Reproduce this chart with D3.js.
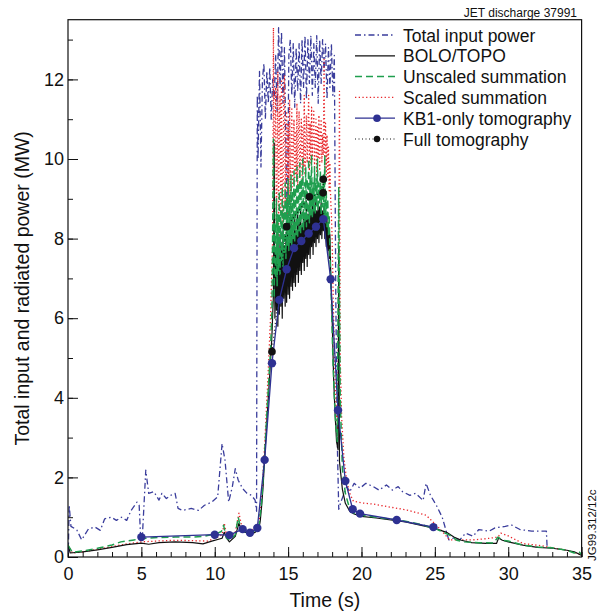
<!DOCTYPE html>
<html lang="en">
<head>
<meta charset="UTF-8">
<title>JET discharge 37991 - radiated power</title>
<script src="https://d3js.org/d3.v7.min.js"></script>
<style>
  body { margin: 0; background: #fff; }
  svg { font-family: "Liberation Sans", Arial, Helvetica, sans-serif; }
  .axis path { display: none; }
  .axis line { stroke: #111; stroke-width: 1; }
  .axis text { fill: #111; font-size: 18px; font-family: "Liberation Sans", Arial, sans-serif; }
  .title { fill: #111; font-size: 19.5px; }
  .legend text { fill: #111; font-size: 17.5px; }
</style>
</head>
<body>
<script>
// time in s, power in MW
const totalInput = [
  [0.02,0.1],[0.08,1.31],[0.2,0.77],[0.6,0.68],[0.93,0.43],[1.4,0.71],[1.85,0.75],[2.2,0.67],[2.5,0.96],
  [2.96,1.0],[3.3,0.92],[3.65,1.0],[4.0,0.92],[4.3,1.17],[4.7,1.38],[4.85,1.3],[4.95,0.5],[5.08,0.6],
  [5.3,2.18],[5.5,1.6],[5.85,1.64],[6.2,1.43],[6.4,1.6],[6.7,1.47],[7.0,1.55],[7.3,1.6],[7.5,1.22],
  [7.8,1.17],[8.4,1.22],[8.9,1.17],[9.3,1.3],[9.8,1.38],[10.2,1.51],[10.5,2.85],[10.7,2.43],[10.95,1.38],
  [11.2,1.77],[11.4,2.22],[11.6,1.93],[11.9,1.72],[12.2,1.6],[12.5,1.55],[12.75,1.43],[12.85,1.15],
  [12.9,11.6],[12.95,10.0],[13.05,12.2],[13.15,9.8],[13.25,12.0],[13.35,12.4],[13.45,11.0],[13.55,12.2],
  [13.65,11.4],[13.75,12.3],[13.85,11.0],[13.95,12.0],[14.05,11.5],[14.15,12.6],[14.25,11.2],[14.35,13.3],
  [14.45,11.8],[14.55,13.2],[14.65,11.4],[14.75,12.8],[14.85,10.2],[14.95,8.3],[15.05,12.6],[15.15,13.0],
  [15.25,11.6],[15.35,12.9],[15.45,11.3],[15.55,12.8],[15.65,11.7],[15.75,12.9],[15.85,11.4],[15.95,13.0],
  [16.05,11.8],[16.15,13.1],[16.25,11.5],[16.35,13.0],[16.45,11.9],[16.55,13.1],[16.65,11.6],[16.75,12.9],
  [16.85,11.8],[16.95,13.1],[17.05,11.4],[17.15,13.0],[17.25,11.9],[17.35,13.0],[17.45,12.2],[17.55,12.9],
  [17.65,11.5],[17.75,12.8],[17.85,11.8],[17.95,12.9],[18.05,11.6],[18.15,12.6],[18.25,6.5],[18.35,2.9],
  [18.45,1.2],[18.6,1.39],[19.0,1.77],[19.2,1.64],[19.5,1.85],[19.9,1.73],[20.3,1.85],[20.8,1.77],
  [21.2,1.68],[21.7,1.81],[22.1,1.68],[22.5,1.77],[22.8,1.64],[23.3,1.55],[23.7,1.6],[24.2,1.42],
  [24.4,1.85],[24.7,1.55],[25.1,1.3],[25.5,1.0],[25.95,0.43],[26.3,0.48],[26.7,0.43],[27.1,0.6],
  [27.6,0.52],[28.0,0.69],[28.7,0.65],[29.1,0.73],[29.8,0.77],[30.2,0.81],[30.8,0.69],[31.6,0.65],
  [32.0,0.65],[32.6,0.65],[32.65,0.25]
];

const boloTopo = [
  [0.0,0.32],[0.15,0.1],[1,0.13],[2,0.18],[3,0.24],[4,0.31],[5,0.35],[5.5,0.32],[6.2,0.36],[7.3,0.38],
  [8.5,0.36],[9.2,0.33],[9.8,0.4],[10.5,0.47],[10.65,0.62],[10.8,0.48],[11.0,0.38],[11.4,0.52],
  [11.65,0.85],[11.85,0.65],[12.1,0.62],[12.4,0.57],[12.75,0.62],[13.0,0.7],[13.1,0.9],[13.2,1.3],
  [13.3,1.8],[13.4,2.5],[13.5,3.1],[13.6,3.7],[13.7,4.3],[13.8,4.9],[13.9,5.6],
  [14.0,6.6],[14.05,10.4],[14.1,6.0],[14.15,7.6],[14.2,6.2],[14.25,7.9],[14.3,5.8],[14.35,7.5],
  [14.4,6.1],[14.45,8.1],[14.5,6.3],[14.55,7.7],[14.6,6.0],[14.65,8.2],[14.7,6.5],[14.75,7.8],
  [14.8,6.3],[14.85,8.0],[14.9,6.4],[14.95,8.3],[15.0,6.6],[15.05,7.9],[15.1,6.5],[15.15,8.2],
  [15.2,6.8],[15.25,8.4],[15.3,6.7],[15.35,8.0],[15.4,6.9],[15.45,8.5],[15.5,6.8],[15.55,8.2],
  [15.6,7.1],[15.65,8.6],[15.7,6.9],[15.75,8.4],[15.8,7.2],[15.85,8.7],[15.9,7.1],[15.95,8.3],
  [16.0,7.4],[16.05,8.7],[16.1,7.2],[16.15,8.5],[16.2,7.5],[16.25,8.8],[16.3,7.3],[16.35,8.6],
  [16.4,7.6],[16.45,8.9],[16.5,7.5],[16.55,8.6],[16.6,7.8],[16.65,8.9],[16.7,7.6],[16.75,8.7],
  [16.8,7.9],[16.85,9.0],[16.9,7.8],[16.95,8.7],[17.0,8.0],[17.05,8.9],[17.1,7.9],[17.15,8.8],
  [17.2,8.1],[17.25,8.9],[17.3,8.0],[17.35,8.7],[17.4,8.2],[17.45,8.8],[17.5,8.0],[17.55,8.6],
  [17.6,7.8],[17.65,8.5],[17.7,7.7],[17.75,8.4],[17.8,7.5],[17.85,8.1],[17.9,7.2],
  [18.0,6.0],[18.1,4.5],[18.2,3.6],[18.3,2.9],[18.4,2.7],[18.45,7.8],
  [18.5,2.4],[18.7,1.7],[18.9,1.35],[19.2,1.15],[19.5,1.08],[20,1.02],[21,0.98],[22,0.93],[23,0.88],
  [24,0.8],[25,0.72],[25.8,0.62],[26.3,0.5],[26.8,0.42],[27.5,0.36],[28.5,0.34],[29.2,0.34],[29.35,0.48],
  [29.6,0.42],[30,0.38],[31,0.3],[32,0.24],[33,0.22],[34,0.17],[34.5,0.13],[35,0.04]
];

const unscaledSum = [
  [0.0,0.3],[0.3,0.12],[1,0.15],[2,0.22],[3,0.3],[3.6,0.38],[4.5,0.43],[5,0.46],[6.2,0.49],[7.3,0.5],
  [8.4,0.5],[9.3,0.52],[10.2,0.6],[10.45,0.64],[10.6,0.8],[10.8,0.47],[11.05,0.43],[11.4,0.56],[11.6,1.0],
  [11.8,0.67],[12.1,0.63],[12.4,0.59],[12.75,0.67],[13.0,0.75],[13.2,1.4],[13.4,2.6],[13.6,3.9],[13.8,5.2],
  [13.9,6.2],[14.0,10.5],[14.05,6.5],[14.1,8.4],[14.15,7.0],[14.2,9.0],[14.25,6.8],[14.3,8.6],
  [14.35,7.2],[14.4,9.2],[14.45,7.1],[14.5,8.7],[14.55,7.4],[14.6,9.3],[14.65,7.3],[14.7,8.8],
  [14.75,7.6],[14.8,9.4],[14.85,7.5],[14.9,9.0],[14.95,7.8],[15.0,9.5],[15.05,7.7],[15.1,9.1],
  [15.15,7.9],[15.2,9.6],[15.25,7.8],[15.3,9.2],[15.35,8.0],[15.4,9.7],[15.45,7.9],[15.5,9.3],
  [15.55,8.1],[15.6,9.8],[15.65,8.0],[15.7,9.4],[15.75,8.2],[15.8,9.9],[15.85,8.1],[15.9,9.5],
  [15.95,8.3],[16.0,10.0],[16.05,8.2],[16.1,9.4],[16.15,8.4],[16.2,9.8],[16.25,8.3],[16.3,9.5],
  [16.35,8.5],[16.4,10.0],[16.45,8.4],[16.5,9.6],[16.55,8.6],[16.6,10.1],[16.65,8.5],[16.7,9.4],
  [16.75,8.7],[16.8,9.8],[16.85,8.6],[16.9,9.5],[16.95,8.8],[17.0,10.0],[17.05,8.7],[17.1,9.4],
  [17.15,8.9],[17.2,9.7],[17.25,8.6],[17.3,9.3],[17.35,8.8],[17.4,9.6],[17.45,8.5],[17.5,10.1],
  [17.55,8.4],[17.6,9.2],[17.65,8.3],[17.7,9.0],[17.75,8.1],[17.8,8.6],[17.85,7.6],
  [17.95,6.4],[18.05,5.0],[18.15,4.0],[18.25,3.3],[18.35,2.9],[18.45,9.3],[18.55,4.0],
  [18.7,2.2],[18.9,1.6],[19.2,1.2],[19.5,1.1],[20,1.05],[21,1.0],[22,0.95],[23,0.9],[24,0.82],[25,0.72],
  [26,0.55],[26.5,0.42],[27,0.38],[28,0.36],[29,0.35],[29.3,0.5],[29.6,0.42],[30,0.4],[31,0.3],[32,0.25],
  [33,0.23],[34,0.17],[34.5,0.1],[34.8,0.14],[35,0.06]
];

const scaledSum = [
  [0.0,0.3],[0.3,0.1],[1,0.13],[2,0.19],[3,0.26],[4,0.33],[5,0.38],[6,0.4],[7.3,0.42],[8.5,0.41],
  [9.5,0.4],[10.2,0.5],[10.5,0.56],[10.65,0.85],[10.8,0.55],[11.0,0.5],[11.4,0.62],[11.65,1.1],
  [11.85,0.75],[12.1,0.7],[12.4,0.66],[12.75,0.72],[13.0,0.8],[13.2,1.5],[13.4,2.8],[13.6,4.3],[13.8,6.0],
  [13.95,8.0],[14.0,13.3],[14.05,8.2],[14.1,10.6],[14.15,11.8],[14.2,8.4],[14.25,9.6],[14.3,12.2],
  [14.35,8.0],[14.4,10.8],[14.45,11.6],[14.5,8.6],[14.55,12.0],[14.6,9.2],[14.65,8.3],[14.7,11.4],
  [14.75,12.1],[14.8,8.8],[14.85,10.2],[14.9,11.2],[14.95,8.5],[15.0,10.9],[15.05,9.0],[15.1,11.5],
  [15.15,8.9],[15.2,10.4],[15.25,11.3],[15.3,9.3],[15.35,10.1],[15.4,11.0],[15.45,9.4],[15.5,10.7],
  [15.55,9.6],[15.6,11.4],[15.65,9.3],[15.7,10.5],[15.75,11.2],[15.8,9.7],[15.85,10.3],[15.9,11.0],
  [15.95,9.5],[16.0,10.8],[16.05,9.8],[16.1,11.6],[16.15,9.6],[16.2,10.4],[16.25,11.1],[16.3,9.9],
  [16.35,10.6],[16.4,11.6],[16.45,9.7],[16.5,10.9],[16.55,9.9],[16.6,11.3],[16.65,10.0],[16.7,10.6],
  [16.75,11.2],[16.8,9.8],[16.85,10.5],[16.9,11.0],[16.95,9.6],[17.0,10.8],[17.05,10.0],[17.1,11.1],
  [17.15,9.7],[17.2,10.5],[17.25,11.0],[17.3,9.9],[17.35,10.6],[17.4,10.1],[17.45,12.5],[17.5,9.8],
  [17.55,10.9],[17.6,9.6],[17.65,10.6],[17.7,9.5],[17.75,10.3],[17.8,9.2],[17.85,9.9],[17.9,9.0],
  [17.95,8.6],[18.0,8.0],[18.1,6.0],[18.2,4.5],[18.3,3.5],[18.4,3.2],[18.5,11.7],[18.55,5.0],
  [18.65,3.5],[18.8,2.5],[19.0,1.9],[19.2,1.6],[19.45,1.4],[20,1.36],[20.8,1.33],[22,1.25],[23.1,1.18],
  [24.4,1.05],[25.1,0.8],[25.6,0.6],[26,0.43],[27.6,0.43],[28.5,0.46],[29.3,0.5],[29.5,0.6],[30,0.53],
  [31,0.34],[32.3,0.28],[33,0.23],[34,0.17],[34.5,0.12],[35,0.05]
];

const kb1Tomo = [
  [5.0,0.5],[10.0,0.56],[11.0,0.55],[11.9,0.7],[12.4,0.61],[12.9,0.73],[13.4,2.44],[13.9,4.87],
  [14.4,6.46],[14.9,7.23],[15.4,7.76],[15.9,7.94],[16.4,8.13],[16.9,8.3],[17.4,8.49],[17.9,6.98],
  [18.4,3.69],[18.9,1.91],[19.4,1.2],[19.9,1.09],[22.4,0.93],[24.9,0.75]
];

const fullTomo = [[13.9,5.16],[14.9,8.3],[16.45,9.05],[17.38,9.15],[17.4,9.49]];

const xTicks = [0, 5, 10, 15, 20, 25, 30, 35];
const yTicks = [0, 2, 4, 6, 8, 10, 12];
const legendNames = ['Total input power', 'BOLO/TOPO', 'Unscaled summation',
  'Scaled summation', 'KB1-only tomography', 'Full tomography'];

const width = 600, height = 613;
const plot = { left: 68, right: 581.6, top: 19.7, bottom: 557 };

const svg = d3.select('body').append('svg')
  .attr('width', width).attr('height', height);

const x = d3.scaleLinear().domain([0, 35]).range([plot.left, plot.right]);
const y = d3.scaleLinear().domain([0, 13.5]).range([plot.bottom, plot.top]);

// minor + major ticks, pointing inwards
svg.append('g').attr('class', 'axis')
  .attr('transform', `translate(0,${plot.bottom})`)
  .call(d3.axisBottom(x).tickValues(d3.range(0, 36, 1)).tickSize(-5).tickSizeOuter(0).tickFormat(''));
svg.append('g').attr('class', 'axis')
  .attr('transform', `translate(0,${plot.bottom})`)
  .call(d3.axisBottom(x).tickValues(xTicks).tickSize(-10).tickSizeOuter(0).tickPadding(10.5).tickFormat(d3.format('d')));

svg.append('g').attr('class', 'axis')
  .attr('transform', `translate(${plot.left},0)`)
  .call(d3.axisLeft(y).tickValues(d3.range(0, 14, 1)).tickSize(-5).tickSizeOuter(0).tickFormat(''));
svg.append('g').attr('class', 'axis')
  .attr('transform', `translate(${plot.left},0)`)
  .call(d3.axisLeft(y).tickValues(yTicks).tickSize(-10).tickSizeOuter(0).tickPadding(4).tickFormat(d3.format('d')));

svg.append('clipPath').attr('id', 'clip')
  .append('rect')
  .attr('x', plot.left).attr('y', plot.top)
  .attr('width', plot.right - plot.left).attr('height', plot.bottom - plot.top);

const line = d3.line().x(d => x(d[0])).y(d => y(d[1]));
const g = svg.append('g').attr('clip-path', 'url(#clip)');

const styles = [
  { data: totalInput, color: '#3a3d9c', width: 1.3, dash: '6,3,1.5,3' },
  { data: scaledSum, color: '#e8262a', width: 1.3, dash: '1.3,2.4' },
  { data: boloTopo, color: '#111', width: 1.2, dash: null },
  { data: unscaledSum, color: '#1f9e4e', width: 1.5, dash: '7,4' },
  { data: kb1Tomo, color: '#2e3192', width: 1.3, dash: null },
  { data: fullTomo, color: '#111', width: 1.2, dash: '1,2.5' }
];

styles.forEach(s => {
  g.append('path')
    .datum(s.data)
    .attr('d', line)
    .attr('fill', 'none')
    .attr('stroke', s.color)
    .attr('stroke-width', s.width)
    .attr('stroke-dasharray', s.dash)
    .attr('stroke-linejoin', 'round');
});

g.selectAll('.kb1').data(kb1Tomo).enter().append('circle')
  .attr('cx', d => x(d[0])).attr('cy', d => y(d[1])).attr('r', 4.2)
  .attr('fill', '#2e3192');
g.selectAll('.full').data(fullTomo).enter().append('circle')
  .attr('cx', d => x(d[0])).attr('cy', d => y(d[1])).attr('r', 3.8)
  .attr('fill', '#111');

// frame
svg.append('rect')
  .attr('x', plot.left).attr('y', plot.top)
  .attr('width', plot.right - plot.left).attr('height', plot.bottom - plot.top)
  .attr('fill', 'none').attr('stroke', '#111').attr('stroke-width', 1.2);

// titles
svg.append('text').attr('class', 'title')
  .attr('x', (plot.left + plot.right) / 2).attr('y', 607)
  .attr('text-anchor', 'middle').text('Time (s)');
svg.append('text').attr('class', 'title')
  .attr('transform', `translate(29,${(plot.top + plot.bottom) / 2}) rotate(-90)`)
  .attr('text-anchor', 'middle').text('Total input and radiated power (MW)');

svg.append('text')
  .attr('x', 577).attr('y', 16.5).attr('text-anchor', 'end')
  .attr('font-size', '12px').attr('fill', '#111')
  .text('JET discharge 37991');
svg.append('text')
  .attr('transform', 'translate(596,561) rotate(-90)')
  .attr('font-size', '11.5px').attr('fill', '#111')
  .text('JG99.312/12c');

// legend
const legend = svg.append('g').attr('class', 'legend');
legendNames.forEach((name, i) => {
  const s = styles[[0, 2, 3, 1, 4, 5][i]];
  const ly = 35 + i * 20.8;
  legend.append('line')
    .attr('x1', 355).attr('x2', 395).attr('y1', ly).attr('y2', ly)
    .attr('stroke', s.color).attr('stroke-width', s.width)
    .attr('stroke-dasharray', s.dash);
  if (i >= 4) {
    legend.append('circle').attr('cx', 377).attr('cy', ly)
      .attr('r', i === 4 ? 3.8 : 3.2).attr('fill', s.color);
  }
  legend.append('text').attr('x', 403).attr('y', ly + 6.5).text(name);
});
</script>
</body>
</html>
